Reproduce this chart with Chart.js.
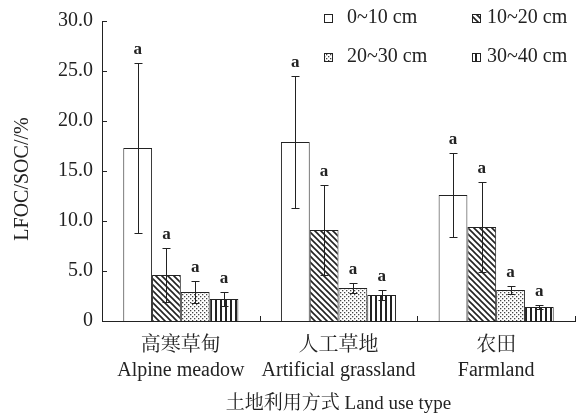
<!DOCTYPE html>
<html><head><meta charset="utf-8">
<script src="https://cdn.jsdelivr.net/npm/chart.js@4/dist/chart.umd.min.js"></script>
<style>html,body{margin:0;padding:0;background:#fff}</style>
</head><body>
<canvas id="c" width="585" height="420"></canvas>
<script>
const categories = [["高寒草甸","Alpine meadow"],["人工草地","Artificial grassland"],["农田","Farmland"]];
const seriesNames = ["0~10 cm","10~20 cm","20~30 cm","30~40 cm"];
const depth0_10  = [17.3, 17.9, 12.6];
const depth10_20 = [4.6, 9.1, 9.4];
const depth20_30 = [2.9, 3.3, 3.1];
const depth30_40 = [2.2, 2.6, 1.4];
const sd0_10  = [8.5, 6.6, 4.2];
const sd10_20 = [2.7, 4.5, 4.5];
const sd20_30 = [1.1, 0.5, 0.4];
const sd30_40 = [0.7, 0.5, 0.2];
const letters0_10  = ["a","a","a"];
const letters10_20 = ["a","a","a"];
const letters20_30 = ["a","a","a"];
const letters30_40 = ["a","a","a"];
const yTicks = [0,5,10,15,20,25,30];
const xTitle = "土地利用方式 Land use type";
const yTitle = "LFOC/SOC//%";

const INK = '#222';
const SERIF = "'Liberation Serif','Noto Serif CJK SC','Noto Sans CJK SC',serif";

function makePattern(type){
  if(type==='blank'){ return '#fff'; }
  const c = document.createElement('canvas');
  let g;
  if(type==='diag'){
    const s=6; c.width=s; c.height=s; g=c.getContext('2d');
    g.fillStyle='#fff'; g.fillRect(0,0,s,s);
    g.strokeStyle=INK; g.lineWidth=1.6; g.beginPath();
    g.moveTo(-1,-1); g.lineTo(s+1,s+1);
    g.moveTo(-2,s-2); g.lineTo(2,s+2);
    g.moveTo(s-2,-2); g.lineTo(s+2,2);
    g.stroke();
  } else if(type==='dots'){
    const s=4; c.width=s; c.height=s; g=c.getContext('2d');
    g.fillStyle='#fff'; g.fillRect(0,0,s,s);
    g.fillStyle='#444'; g.fillRect(0,0,1.3,1.3); g.fillRect(2,2,1.3,1.3);
  } else if(type==='vert'){
    c.width=5; c.height=2; g=c.getContext('2d');
    g.fillStyle='#fff'; g.fillRect(0,0,5,2);
    g.fillStyle=INK; g.fillRect(0,0,2,2);
  }
  return document.createElement('canvas').getContext('2d').createPattern(c,'repeat');
}
const fills = [makePattern('blank'), makePattern('diag'), makePattern('dots'), makePattern('vert')];
const values = [depth0_10, depth10_20, depth20_30, depth30_40];
const errors = [sd0_10, sd10_20, sd20_30, sd30_40];
const letters = [letters0_10, letters10_20, letters20_30, letters30_40];

const overlay = {
  id:'overlay',
  afterDatasetsDraw(chart){
    const ctx = chart.ctx, y = chart.scales.y, x = chart.scales.x, a = chart.chartArea;
    ctx.save();
    ctx.strokeStyle = INK; ctx.lineWidth = 1;
    chart.data.datasets.forEach((ds,di)=>{
      const meta = chart.getDatasetMeta(di);
      meta.data.forEach((bar,i)=>{
        const v = ds.data[i], e = errors[di][i];
        const top = y.getPixelForValue(v+e), bot = y.getPixelForValue(Math.max(0,v-e));
        const bx = Math.round(bar.x)+0.5;
        ctx.beginPath();
        ctx.moveTo(bx, top); ctx.lineTo(bx, bot);
        ctx.moveTo(bx-4, Math.round(top)+0.5); ctx.lineTo(bx+4, Math.round(top)+0.5);
        ctx.moveTo(bx-4, Math.round(bot)+0.5); ctx.lineTo(bx+4, Math.round(bot)+0.5);
        ctx.stroke();
        ctx.fillStyle = INK; ctx.font = "bold 17px "+SERIF;
        ctx.textAlign='center'; ctx.textBaseline='alphabetic';
        ctx.fillText(letters[di][i], bar.x, top-9);
      });
    });
    ctx.beginPath();
    yTicks.forEach(t=>{ const py=Math.round(y.getPixelForValue(t))+0.5; ctx.moveTo(a.left, py); ctx.lineTo(a.left+5, py); });
    const n = categories.length;
    const half = (x.getPixelForValue(1)-x.getPixelForValue(0))/2;
    for(let i=0;i<n;i++){
      const px = Math.round(x.getPixelForValue(i)+half)+0.5;
      ctx.moveTo(px, a.bottom); ctx.lineTo(px, a.bottom-5);
    }
    ctx.stroke();
    // legend
    const pos = [[328,18],[476,18],[328,57],[476,57]];
    ctx.font = "20px "+SERIF; ctx.textAlign='left'; ctx.textBaseline='middle';
    seriesNames.forEach((nm,k)=>{
      const [lx,ly]=pos[k];
      ctx.fillStyle = fills[k]; ctx.fillRect(lx-4, ly-4, 8, 8);
      ctx.strokeStyle=INK; ctx.strokeRect(lx-3.5, ly-3.5, 8, 8);
      ctx.fillStyle = INK; ctx.fillText(nm, k%2===0 ? 347 : 487, ly);
    });
    // y title
    ctx.translate(23, 179); ctx.rotate(-Math.PI/2);
    ctx.font = "20px "+SERIF; ctx.textAlign='center'; ctx.textBaseline='middle';
    ctx.fillStyle = INK; ctx.fillText(yTitle, 0, 0);
    ctx.restore();
  }
};

new Chart(document.getElementById('c'), {
  type:'bar',
  data:{
    labels: categories,
    datasets: seriesNames.map((nm,k)=>({
      label:nm, data:values[k], backgroundColor:fills[k], borderColor:INK, borderWidth:1,
      categoryPercentage:0.73, barPercentage:1.0
    }))
  },
  options:{
    responsive:false, animation:false, devicePixelRatio:1,
    layout:{padding:{left:0,right:10,top:15,bottom:0}},
    plugins:{legend:{display:false}, tooltip:{enabled:false}},
    scales:{
      x:{
        grid:{display:false, drawTicks:false},
        border:{display:true, color:INK, width:1},
        ticks:{color:INK, font:{family:SERIF, size:20, lineHeight:'25px'}, padding:12, maxRotation:0, autoSkip:false},
        title:{display:true, text:xTitle, color:INK, font:{family:SERIF, size:19}, padding:{top:0,bottom:5}},
        afterFit(s){ s.height = 99; }
      },
      y:{
        min:0, max:30,
        afterBuildTicks(s){ s.ticks = yTicks.map(v=>({value:v})); },
        grid:{display:false, drawTicks:false},
        border:{display:true, color:INK, width:1},
        ticks:{color:INK, font:{family:SERIF, size:20}, padding:9, callback:v=> v===0 ? '0' : v.toFixed(1)},
        title:{display:false},
        afterFit(s){ s.width = 102; }
      }
    }
  },
  plugins:[overlay]
});
</script>
</body></html>
